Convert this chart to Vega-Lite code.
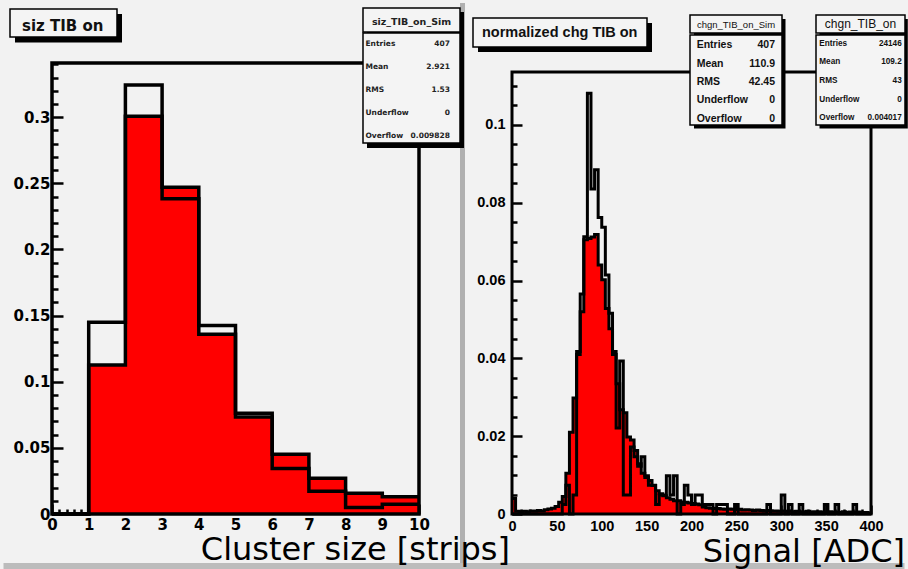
{
  "$schema": "https://vega.github.io/schema/vega-lite/v6.json",
  "background": "#f2f2f2",
  "padding": 0,
  "bounds": "flush",
  "spacing": 93,
  "config": {
    "view": {"stroke": null},
    "axis": {"domain": false, "grid": false, "tickColor": "black", "tickWidth": 2.5, "labelColor": "black", "labelOverlap": false, "labelFlush": false, "labelBound": false}
  },
  "datasets": {
    "siz": [
      {"lo": 0, "hi": 1, "data": 0, "sim": 0},
      {"lo": 1, "hi": 2, "data": 0.1126, "sim": 0.14496},
      {"lo": 2, "hi": 3, "data": 0.3008, "sim": 0.32432},
      {"lo": 3, "hi": 4, "data": 0.247, "sim": 0.23833},
      {"lo": 4, "hi": 5, "data": 0.136, "sim": 0.14251},
      {"lo": 5, "hi": 6, "data": 0.0733, "sim": 0.07617},
      {"lo": 6, "hi": 7, "data": 0.0451, "sim": 0.0344},
      {"lo": 7, "hi": 8, "data": 0.027, "sim": 0.0172},
      {"lo": 8, "hi": 9, "data": 0.0156, "sim": 0.00491},
      {"lo": 9, "hi": 10, "data": 0.0131, "sim": 0.00737}
    ],
    "chg": [
      {"lo": 0, "hi": 4, "data": 0.004, "sim": 0},
      {"lo": 4, "hi": 8, "data": 0.0007, "sim": 0},
      {"lo": 8, "hi": 12, "data": 0.0006, "sim": 0},
      {"lo": 12, "hi": 16, "data": 0.0007, "sim": 0},
      {"lo": 16, "hi": 20, "data": 0.0006, "sim": 0},
      {"lo": 20, "hi": 24, "data": 0.0008, "sim": 0},
      {"lo": 24, "hi": 28, "data": 0.0007, "sim": 0},
      {"lo": 28, "hi": 32, "data": 0.0009, "sim": 0},
      {"lo": 32, "hi": 36, "data": 0.0008, "sim": 0},
      {"lo": 36, "hi": 40, "data": 0.0011, "sim": 0},
      {"lo": 40, "hi": 44, "data": 0.0013, "sim": 0},
      {"lo": 44, "hi": 48, "data": 0.0015, "sim": 0},
      {"lo": 48, "hi": 52, "data": 0.0019, "sim": 0},
      {"lo": 52, "hi": 56, "data": 0.003, "sim": 0},
      {"lo": 56, "hi": 60, "data": 0.0045, "sim": 0.00246},
      {"lo": 60, "hi": 64, "data": 0.0105, "sim": 0.00737},
      {"lo": 64, "hi": 68, "data": 0.021, "sim": 0},
      {"lo": 68, "hi": 72, "data": 0.0298, "sim": 0.00491},
      {"lo": 72, "hi": 76, "data": 0.041, "sim": 0.04177},
      {"lo": 76, "hi": 80, "data": 0.052, "sim": 0.05651},
      {"lo": 80, "hi": 84, "data": 0.0705, "sim": 0.07125},
      {"lo": 84, "hi": 88, "data": 0.0708, "sim": 0.10811},
      {"lo": 88, "hi": 92, "data": 0.0712, "sim": 0.08354},
      {"lo": 92, "hi": 96, "data": 0.0718, "sim": 0.08845},
      {"lo": 96, "hi": 100, "data": 0.064, "sim": 0.07617},
      {"lo": 100, "hi": 104, "data": 0.0602, "sim": 0.07371},
      {"lo": 104, "hi": 108, "data": 0.0528, "sim": 0.06143},
      {"lo": 108, "hi": 112, "data": 0.0476, "sim": 0.0516},
      {"lo": 112, "hi": 116, "data": 0.041, "sim": 0.04177},
      {"lo": 116, "hi": 120, "data": 0.0335, "sim": 0.02211},
      {"lo": 120, "hi": 124, "data": 0.0268, "sim": 0.03931},
      {"lo": 124, "hi": 128, "data": 0.026, "sim": 0.00491},
      {"lo": 128, "hi": 132, "data": 0.0198, "sim": 0.00491},
      {"lo": 132, "hi": 136, "data": 0.019, "sim": 0.0172},
      {"lo": 136, "hi": 140, "data": 0.0163, "sim": 0.01474},
      {"lo": 140, "hi": 144, "data": 0.0129, "sim": 0.01229},
      {"lo": 144, "hi": 148, "data": 0.0105, "sim": 0.01474},
      {"lo": 148, "hi": 152, "data": 0.0094, "sim": 0.00983},
      {"lo": 152, "hi": 156, "data": 0.0086, "sim": 0.00737},
      {"lo": 156, "hi": 160, "data": 0.0073, "sim": 0.00737},
      {"lo": 160, "hi": 164, "data": 0.006, "sim": 0.00246},
      {"lo": 164, "hi": 168, "data": 0.0052, "sim": 0.00491},
      {"lo": 168, "hi": 172, "data": 0.0047, "sim": 0.00491},
      {"lo": 172, "hi": 176, "data": 0.0042, "sim": 0.00983},
      {"lo": 176, "hi": 180, "data": 0.0038, "sim": 0.00491},
      {"lo": 180, "hi": 184, "data": 0.0034, "sim": 0.00983},
      {"lo": 184, "hi": 188, "data": 0.0034, "sim": 0},
      {"lo": 188, "hi": 192, "data": 0.0031, "sim": 0.00246},
      {"lo": 192, "hi": 196, "data": 0.003, "sim": 0.00737},
      {"lo": 196, "hi": 200, "data": 0.0028, "sim": 0.00491},
      {"lo": 200, "hi": 204, "data": 0.0027, "sim": 0.00246},
      {"lo": 204, "hi": 208, "data": 0.0026, "sim": 0.00491},
      {"lo": 208, "hi": 212, "data": 0.0024, "sim": 0.00491},
      {"lo": 212, "hi": 216, "data": 0.0018, "sim": 0.00246},
      {"lo": 216, "hi": 220, "data": 0.0016, "sim": 0.00246},
      {"lo": 220, "hi": 224, "data": 0.0015, "sim": 0.00246},
      {"lo": 224, "hi": 228, "data": 0.0014, "sim": 0},
      {"lo": 228, "hi": 232, "data": 0.0014, "sim": 0.00246},
      {"lo": 232, "hi": 236, "data": 0.0013, "sim": 0.00246},
      {"lo": 236, "hi": 240, "data": 0.0012, "sim": 0.00246},
      {"lo": 240, "hi": 244, "data": 0.0013, "sim": 0},
      {"lo": 244, "hi": 248, "data": 0.0012, "sim": 0},
      {"lo": 248, "hi": 252, "data": 0.0011, "sim": 0.00246},
      {"lo": 252, "hi": 256, "data": 0.0012, "sim": 0},
      {"lo": 256, "hi": 260, "data": 0.001, "sim": 0},
      {"lo": 260, "hi": 264, "data": 0.0011, "sim": 0},
      {"lo": 264, "hi": 268, "data": 0.001, "sim": 0},
      {"lo": 268, "hi": 272, "data": 0.0009, "sim": 0},
      {"lo": 272, "hi": 276, "data": 0.001, "sim": 0},
      {"lo": 276, "hi": 280, "data": 0.0009, "sim": 0},
      {"lo": 280, "hi": 284, "data": 0.0008, "sim": 0},
      {"lo": 284, "hi": 288, "data": 0.0009, "sim": 0.00246},
      {"lo": 288, "hi": 292, "data": 0.0008, "sim": 0},
      {"lo": 292, "hi": 296, "data": 0.0008, "sim": 0},
      {"lo": 296, "hi": 300, "data": 0.0007, "sim": 0},
      {"lo": 300, "hi": 304, "data": 0.0008, "sim": 0.00491},
      {"lo": 304, "hi": 308, "data": 0.0007, "sim": 0},
      {"lo": 308, "hi": 312, "data": 0.0007, "sim": 0.00246},
      {"lo": 312, "hi": 316, "data": 0.0006, "sim": 0},
      {"lo": 316, "hi": 320, "data": 0.0007, "sim": 0},
      {"lo": 320, "hi": 324, "data": 0.0006, "sim": 0.00246},
      {"lo": 324, "hi": 328, "data": 0.0006, "sim": 0},
      {"lo": 328, "hi": 332, "data": 0.0007, "sim": 0},
      {"lo": 332, "hi": 336, "data": 0.0005, "sim": 0},
      {"lo": 336, "hi": 340, "data": 0.0006, "sim": 0},
      {"lo": 340, "hi": 344, "data": 0.0006, "sim": 0},
      {"lo": 344, "hi": 348, "data": 0.0005, "sim": 0},
      {"lo": 348, "hi": 352, "data": 0.0005, "sim": 0.00246},
      {"lo": 352, "hi": 356, "data": 0.0006, "sim": 0},
      {"lo": 356, "hi": 360, "data": 0.0005, "sim": 0},
      {"lo": 360, "hi": 364, "data": 0.0005, "sim": 0.00246},
      {"lo": 364, "hi": 368, "data": 0.0004, "sim": 0},
      {"lo": 368, "hi": 372, "data": 0.0006, "sim": 0},
      {"lo": 372, "hi": 376, "data": 0.0004, "sim": 0},
      {"lo": 376, "hi": 380, "data": 0.0005, "sim": 0},
      {"lo": 380, "hi": 384, "data": 0.0004, "sim": 0.00246},
      {"lo": 384, "hi": 388, "data": 0.0005, "sim": 0},
      {"lo": 388, "hi": 392, "data": 0.0004, "sim": 0},
      {"lo": 392, "hi": 396, "data": 0.0004, "sim": 0},
      {"lo": 396, "hi": 400, "data": 0.0003, "sim": 0}
    ]
  },
  "hconcat": [
    {
      "width": 367,
      "height": 451,
      "layer": [
        {
          "data": {"name": "siz"},
          "transform": [{"fold": ["lo", "hi"], "as": ["side", "edge"]}],
          "mark": {"type": "area", "color": "#ff0000"},
          "encoding": {
            "x": {
              "field": "edge", "type": "quantitative",
              "scale": {"domain": [0, 10], "nice": false, "zero": false},
              "axis": {
                "title": null,
                "values": [0,0.2,0.4,0.6,0.8,1,1.2,1.4,1.6,1.8,2,2.2,2.4,2.6,2.8,3,3.2,3.4,3.6,3.8,4,4.2,4.4,4.6,4.8,5,5.2,5.4,5.6,5.8,6,6.2,6.4,6.6,6.8,7,7.2,7.4,7.6,7.8,8,8.2,8.4,8.6,8.8,9,9.2,9.4,9.6,9.8,10],
                "tickCount": 500,
                "tickSize": {"condition": {"test": "abs(datum.value - round(datum.value)) < 0.001", "value": -10}, "value": -5},
                "labelExpr": "abs(datum.value - round(datum.value)) < 0.001 ? format(datum.value, 'd') : ''",
                "labelOverlap": false,
                "labelPadding": 13,
                "labelFont": "DejaVu Sans", "labelFontWeight": "bold", "labelFontSize": 15
              }
            },
            "y": {
              "field": "data", "type": "quantitative", "stack": null,
              "scale": {"domain": [0, 0.341], "nice": false, "zero": false},
              "axis": {
                "title": null,
                "values": [0,0.01,0.02,0.03,0.04,0.05,0.06,0.07,0.08,0.09,0.1,0.11,0.12,0.13,0.14,0.15,0.16,0.17,0.18,0.19,0.2,0.21,0.22,0.23,0.24,0.25,0.26,0.27,0.28,0.29,0.3,0.31,0.32,0.33,0.34],
                "tickCount": 500,
                "tickSize": {"condition": {"test": "abs(datum.value * 20 - round(datum.value * 20)) < 0.001", "value": -11}, "value": -6},
                "labelExpr": "abs(datum.value * 20 - round(datum.value * 20)) < 0.001 ? format(datum.value, '~g') : ''",
                "labelOverlap": false,
                "labelPadding": 13,
                "labelFont": "DejaVu Sans", "labelFontWeight": "bold", "labelFontSize": 15
              }
            },
            "order": [{"field": "edge", "type": "quantitative"}, {"field": "side", "type": "ordinal"}]
          }
        },
        {
          "data": {"name": "siz"},
          "transform": [{"fold": ["lo", "hi"], "as": ["side", "edge"]}],
          "mark": {"type": "line", "color": "black", "strokeWidth": 3.5, "strokeJoin": "miter"},
          "encoding": {
            "x": {"field": "edge", "type": "quantitative"},
            "y": {"field": "data", "type": "quantitative"},
            "order": [{"field": "edge", "type": "quantitative"}, {"field": "side", "type": "ordinal"}]
          }
        },
        {
          "data": {"name": "siz"},
          "transform": [{"fold": ["lo", "hi"], "as": ["side", "edge"]}],
          "mark": {"type": "line", "color": "black", "strokeWidth": 3.5, "strokeJoin": "miter"},
          "encoding": {
            "x": {"field": "edge", "type": "quantitative"},
            "y": {"field": "sim", "type": "quantitative"},
            "order": [{"field": "edge", "type": "quantitative"}, {"field": "side", "type": "ordinal"}]
          }
        },
        {
          "data": {"values": [{}]},
          "mark": {"type": "rect", "filled": false, "stroke": "black", "strokeWidth": 3.5},
          "encoding": {
            "x": {"datum": 0, "type": "quantitative"}, "x2": {"datum": 10},
            "y": {"datum": 0, "type": "quantitative"}, "y2": {"datum": 0.341}
          }
        },
        {
          "data": {"values": [{}]},
          "mark": {"type": "rect", "fill": "#f2f2f2", "fillOpacity": 0, "strokeWidth": 0},
          "encoding": {
            "x": {"datum": -1.4168, "type": "quantitative"}, "x2": {"datum": 23.324},
            "y": {"datum": 0.38863, "type": "quantitative"}, "y2": {"datum": -0.041577}
          }
        },
        {
          "data": {"values": [{}]},
          "mark": {"type": "rule", "color": "#b0b0b0", "strokeWidth": 5},
          "encoding": {
            "x": {"datum": 11.1853, "type": "quantitative"},
            "y": {"datum": 0.38636, "type": "quantitative"}, "y2": {"datum": -0.03931}
          }
        },
        {
          "data": {"values": [{}]},
          "mark": {"type": "rule", "color": "#bcbcbc", "strokeWidth": 6},
          "encoding": {
            "x": {"datum": -1.3215, "type": "quantitative"}, "x2": {"datum": 23.2289},
            "y": {"datum": -0.03932, "type": "quantitative"}
          }
        },
        {
          "data": {"values": [{}]},
          "mark": {"type": "rect", "color": "black"},
          "encoding": {
            "x": {"datum": -1.0082, "type": "quantitative"}, "x2": {"datum": 1.9074},
            "y": {"datum": 0.37805, "type": "quantitative"}, "y2": {"datum": 0.3565}
          }
        },
        {
          "data": {"values": [{}]},
          "mark": {"type": "rect", "fill": "#f4f4f4", "stroke": "black", "strokeWidth": 1.5},
          "encoding": {
            "x": {"datum": -1.1444, "type": "quantitative"}, "x2": {"datum": 1.7711},
            "y": {"datum": 0.38183, "type": "quantitative"}, "y2": {"datum": 0.36066}
          }
        },
        {
          "data": {"values": [{}]},
          "mark": {"type": "text", "text": "siz TIB on", "font": "DejaVu Sans", "fontWeight": "bold", "fontSize": 15, "align": "left", "baseline": "alphabetic", "color": "#111111"},
          "encoding": {
            "x": {"datum": -0.8174, "type": "quantitative"},
            "y": {"datum": 0.36557, "type": "quantitative"}
          }
        },
        {
          "data": {"values": [{}]},
          "mark": {"type": "rect", "color": "black"},
          "encoding": {
            "x": {"datum": 8.5831, "type": "quantitative"}, "x2": {"datum": 11.2262},
            "y": {"datum": 0.37956, "type": "quantitative"}, "y2": {"datum": 0.27673}
          }
        },
        {
          "data": {"values": [{}]},
          "mark": {"type": "rect", "fill": "#f4f4f4", "stroke": "black", "strokeWidth": 1.5},
          "encoding": {
            "x": {"datum": 8.4741, "type": "quantitative"}, "x2": {"datum": 11.1172},
            "y": {"datum": 0.38258, "type": "quantitative"}, "y2": {"datum": 0.36444}
          }
        },
        {
          "data": {"values": [{}]},
          "mark": {"type": "rect", "fill": "#f4f4f4", "stroke": "black", "strokeWidth": 1.5},
          "encoding": {
            "x": {"datum": 8.4741, "type": "quantitative"}, "x2": {"datum": 11.1172},
            "y": {"datum": 0.36368, "type": "quantitative"}, "y2": {"datum": 0.28051}
          }
        },
        {
          "data": {"values": [{}]},
          "mark": {"type": "text", "text": "siz_TIB_on_Sim", "font": "DejaVu Sans", "fontWeight": "bold", "fontSize": 9.5, "align": "center", "baseline": "alphabetic", "color": "#222222"},
          "encoding": {
            "x": {"datum": 9.7956, "type": "quantitative"},
            "y": {"datum": 0.3701, "type": "quantitative"}
          }
        },
        {
          "data": {"values": [{}]},
          "mark": {"type": "text", "text": ["Entries", "Mean", "RMS", "Underflow", "Overflow"], "lineHeight": 22.9, "font": "DejaVu Sans", "fontWeight": "bold", "fontSize": 7.5, "align": "left", "baseline": "alphabetic", "color": "#222222"},
          "encoding": {
            "x": {"datum": 8.5422, "type": "quantitative"},
            "y": {"datum": 0.35385, "type": "quantitative"}
          }
        },
        {
          "data": {"values": [{}]},
          "mark": {"type": "text", "text": ["407", "2.921", "1.53", "0", "0.009828"], "lineHeight": 22.9, "font": "DejaVu Sans", "fontWeight": "bold", "fontSize": 7.5, "align": "right", "baseline": "alphabetic", "color": "#222222"},
          "encoding": {
            "x": {"datum": 10.8447, "type": "quantitative"},
            "y": {"datum": 0.35385, "type": "quantitative"}
          }
        },
        {
          "data": {"values": [{}]},
          "mark": {"type": "text", "text": "Cluster size [strips]", "font": "DejaVu Sans", "fontSize": 32, "align": "right", "baseline": "alphabetic", "color": "black"},
          "encoding": {
            "x": {"datum": 12.48, "type": "quantitative"},
            "y": {"datum": -0.03478, "type": "quantitative"}
          }
        }
      ]
    },
    {
      "width": 359,
      "height": 451,
      "layer": [
        {
          "data": {"name": "chg"},
          "transform": [{"fold": ["lo", "hi"], "as": ["side", "edge"]}],
          "mark": {"type": "area", "color": "#ff0000"},
          "encoding": {
            "x": {
              "field": "edge", "type": "quantitative",
              "scale": {"domain": [0, 400], "nice": false, "zero": false},
              "axis": {
                "title": null,
                "values": [0,10,20,30,40,50,60,70,80,90,100,110,120,130,140,150,160,170,180,190,200,210,220,230,240,250,260,270,280,290,300,310,320,330,340,350,360,370,380,390,400],
                "tickCount": 500,
                "tickSize": {"condition": {"test": "datum.value % 50 === 0", "value": -9}, "value": -5},
                "labelExpr": "datum.value % 50 === 0 ? format(datum.value, 'd') : ''",
                "labelOverlap": false,
                "labelPadding": 14,
                "labelFont": "Liberation Sans", "labelFontWeight": "bold", "labelFontSize": 14.5
              }
            },
            "y": {
              "field": "data", "type": "quantitative", "stack": null,
              "scale": {"domain": [0, 0.1159], "nice": false, "zero": false},
              "axis": {
                "title": null,
                "values": [0,0.005,0.01,0.015,0.02,0.025,0.03,0.035,0.04,0.045,0.05,0.055,0.06,0.065,0.07,0.075,0.08,0.085,0.09,0.095,0.1,0.105,0.11],
                "tickCount": 500,
                "tickSize": {"condition": {"test": "abs(datum.value * 50 - round(datum.value * 50)) < 0.001", "value": -10}, "value": -5},
                "labelExpr": "abs(datum.value * 50 - round(datum.value * 50)) < 0.001 ? format(datum.value, '~g') : ''",
                "labelOverlap": false,
                "labelPadding": 17,
                "labelFont": "Liberation Sans", "labelFontWeight": "bold", "labelFontSize": 14.5
              }
            },
            "order": [{"field": "edge", "type": "quantitative"}, {"field": "side", "type": "ordinal"}]
          }
        },
        {
          "data": {"name": "chg"},
          "transform": [{"fold": ["lo", "hi"], "as": ["side", "edge"]}],
          "mark": {"type": "line", "color": "black", "strokeWidth": 3, "strokeJoin": "miter"},
          "encoding": {
            "x": {"field": "edge", "type": "quantitative"},
            "y": {"field": "data", "type": "quantitative"},
            "order": [{"field": "edge", "type": "quantitative"}, {"field": "side", "type": "ordinal"}]
          }
        },
        {
          "data": {"name": "chg"},
          "transform": [{"fold": ["lo", "hi"], "as": ["side", "edge"]}],
          "mark": {"type": "line", "color": "black", "strokeWidth": 3, "strokeJoin": "miter"},
          "encoding": {
            "x": {"field": "edge", "type": "quantitative"},
            "y": {"field": "sim", "type": "quantitative"},
            "order": [{"field": "edge", "type": "quantitative"}, {"field": "side", "type": "ordinal"}]
          }
        },
        {
          "data": {"values": [{}]},
          "mark": {"type": "rect", "filled": false, "stroke": "black", "strokeWidth": 3},
          "encoding": {
            "x": {"datum": 0, "type": "quantitative"}, "x2": {"datum": 400},
            "y": {"datum": 0, "type": "quantitative"}, "y2": {"datum": 0.11359}
          }
        },
        {
          "data": {"values": [{}]},
          "mark": {"type": "rect", "color": "black"},
          "encoding": {
            "x": {"datum": -37.88, "type": "quantitative"}, "x2": {"datum": 155.99},
            "y": {"datum": 0.12618, "type": "quantitative"}, "y2": {"datum": 0.11873}
          }
        },
        {
          "data": {"values": [{}]},
          "mark": {"type": "rect", "fill": "#f4f4f4", "stroke": "black", "strokeWidth": 1.5},
          "encoding": {
            "x": {"datum": -43.45, "type": "quantitative"}, "x2": {"datum": 150.42},
            "y": {"datum": 0.12746, "type": "quantitative"}, "y2": {"datum": 0.12001}
          }
        },
        {
          "data": {"values": [{}]},
          "mark": {"type": "text", "text": "normalized chg TIB on", "font": "Liberation Sans", "fontWeight": "bold", "fontSize": 14.5, "align": "left", "baseline": "alphabetic", "color": "#111111"},
          "encoding": {
            "x": {"datum": -33.43, "type": "quantitative"},
            "y": {"datum": 0.12258, "type": "quantitative"}
          }
        },
        {
          "data": {"values": [{}]},
          "mark": {"type": "rect", "color": "black"},
          "encoding": {
            "x": {"datum": 202.79, "type": "quantitative"}, "x2": {"datum": 304.74},
            "y": {"datum": 0.12721, "type": "quantitative"}, "y2": {"datum": 0.09907}
          }
        },
        {
          "data": {"values": [{}]},
          "mark": {"type": "rect", "fill": "#f4f4f4", "stroke": "black", "strokeWidth": 1.5},
          "encoding": {
            "x": {"datum": 198.33, "type": "quantitative"}, "x2": {"datum": 300.84},
            "y": {"datum": 0.12824, "type": "quantitative"}, "y2": {"datum": 0.12361}
          }
        },
        {
          "data": {"values": [{}]},
          "mark": {"type": "rect", "fill": "#f4f4f4", "stroke": "black", "strokeWidth": 1.5},
          "encoding": {
            "x": {"datum": 198.33, "type": "quantitative"}, "x2": {"datum": 300.84},
            "y": {"datum": 0.1231, "type": "quantitative"}, "y2": {"datum": 0.09997}
          }
        },
        {
          "data": {"values": [{}]},
          "mark": {"type": "text", "text": "chgn_TIB_on_Sim", "font": "Liberation Sans", "fontSize": 9.5, "align": "center", "baseline": "alphabetic", "color": "#111111"},
          "encoding": {
            "x": {"datum": 249.58, "type": "quantitative"},
            "y": {"datum": 0.12482, "type": "quantitative"}
          }
        },
        {
          "data": {"values": [{}]},
          "mark": {"type": "text", "text": ["Entries", "Mean", "RMS", "Underflow", "Overflow"], "lineHeight": 18.4, "font": "Liberation Sans", "fontWeight": "bold", "fontSize": 10.5, "align": "left", "baseline": "alphabetic", "color": "#111111"},
          "encoding": {
            "x": {"datum": 205.79, "type": "quantitative"},
            "y": {"datum": 0.11968, "type": "quantitative"}
          }
        },
        {
          "data": {"values": [{}]},
          "mark": {"type": "text", "text": ["407", "110.9", "42.45", "0", "0"], "lineHeight": 18.4, "font": "Liberation Sans", "fontWeight": "bold", "fontSize": 10.5, "align": "right", "baseline": "alphabetic", "color": "#111111"},
          "encoding": {
            "x": {"datum": 293.04, "type": "quantitative"},
            "y": {"datum": 0.11968, "type": "quantitative"}
          }
        },
        {
          "data": {"values": [{}]},
          "mark": {"type": "rect", "color": "black"},
          "encoding": {
            "x": {"datum": 342.62, "type": "quantitative"}, "x2": {"datum": 441.0},
            "y": {"datum": 0.12721, "type": "quantitative"}, "y2": {"datum": 0.09907}
          }
        },
        {
          "data": {"values": [{}]},
          "mark": {"type": "rect", "fill": "#f4f4f4", "stroke": "black", "strokeWidth": 1.5},
          "encoding": {
            "x": {"datum": 338.72, "type": "quantitative"}, "x2": {"datum": 437.88},
            "y": {"datum": 0.12824, "type": "quantitative"}, "y2": {"datum": 0.12361}
          }
        },
        {
          "data": {"values": [{}]},
          "mark": {"type": "rect", "fill": "#f4f4f4", "stroke": "black", "strokeWidth": 1.5},
          "encoding": {
            "x": {"datum": 338.72, "type": "quantitative"}, "x2": {"datum": 437.88},
            "y": {"datum": 0.1231, "type": "quantitative"}, "y2": {"datum": 0.09997}
          }
        },
        {
          "data": {"values": [{}]},
          "mark": {"type": "text", "text": "chgn_TIB_on", "font": "Liberation Sans", "fontSize": 12, "align": "center", "baseline": "alphabetic", "color": "#111111"},
          "encoding": {
            "x": {"datum": 388.3, "type": "quantitative"},
            "y": {"datum": 0.12489, "type": "quantitative"}
          }
        },
        {
          "data": {"values": [{}]},
          "mark": {"type": "text", "text": ["Entries", "Mean", "RMS", "Underflow", "Overflow"], "lineHeight": 18.7, "font": "Liberation Sans", "fontWeight": "bold", "fontSize": 8.2, "align": "left", "baseline": "alphabetic", "color": "#111111"},
          "encoding": {
            "x": {"datum": 342.4, "type": "quantitative"},
            "y": {"datum": 0.12035, "type": "quantitative"}
          }
        },
        {
          "data": {"values": [{}]},
          "mark": {"type": "text", "text": ["24146", "109.2", "43", "0", "0.004017"], "lineHeight": 18.7, "font": "Liberation Sans", "fontWeight": "bold", "fontSize": 8.2, "align": "right", "baseline": "alphabetic", "color": "#111111"},
          "encoding": {
            "x": {"datum": 434.21, "type": "quantitative"},
            "y": {"datum": 0.12035, "type": "quantitative"}
          }
        },
        {
          "data": {"values": [{}]},
          "mark": {"type": "text", "text": "Signal [ADC]", "font": "DejaVu Sans", "fontSize": 32, "align": "right", "baseline": "alphabetic", "color": "black"},
          "encoding": {
            "x": {"datum": 437.88, "type": "quantitative"},
            "y": {"datum": -0.01234, "type": "quantitative"}
          }
        }
      ]
    }
  ]
}
